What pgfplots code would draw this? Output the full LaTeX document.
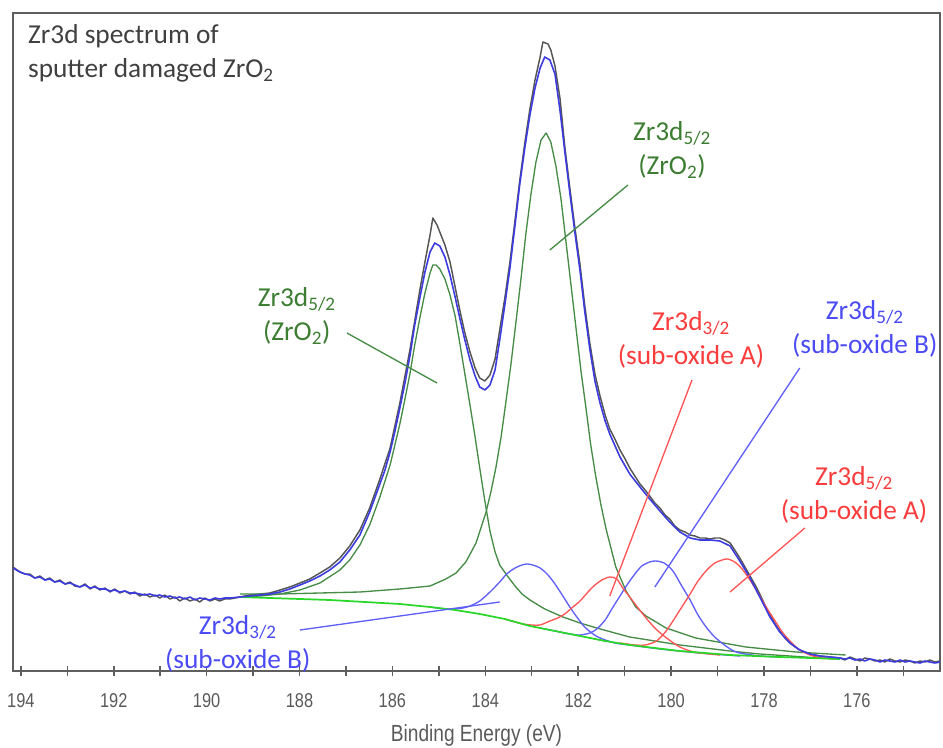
\documentclass[border=0pt]{standalone}
\usepackage{fontspec}
\usepackage{graphicx}
\usepackage{pgfplots}
\usepackage{pgfplotstable}
\pgfplotsset{compat=1.18}
\setmainfont{Carlito}
\newfontfamily\arialfont{Liberation Sans}

\definecolor{rawgray}{RGB}{85,85,85}
\definecolor{fitblue}{RGB}{60,60,225}
\definecolor{compblue}{RGB}{95,95,250}
\definecolor{zrgreen}{RGB}{70,140,70}
\definecolor{bggreen}{RGB}{40,215,40}
\definecolor{compred}{RGB}{255,85,85}
\definecolor{lblgreen}{RGB}{60,125,50}
\definecolor{lblred}{RGB}{250,60,60}
\definecolor{lblblue}{RGB}{75,75,245}
\definecolor{txtgray}{RGB}{64,64,64}
\definecolor{axgray}{RGB}{95,95,95}
\definecolor{ticktext}{RGB}{90,90,90}

\newcommand{\tk}[1]{\scalebox{0.82}[1]{#1}}
\newcommand{\lblfont}{\fontsize{20.5}{25.5}\selectfont}

% measured spectrum (binding energy in eV, intensity in arbitrary units)
\pgfplotstableread{
E h
194.17 104
194.02 99
193.91 97
193.81 97
193.70 93
193.59 95
193.48 91
193.38 93
193.27 89
193.16 91
193.05 87
192.94 89
192.84 85
192.73 84
192.62 87
192.51 82
192.41 85
192.30 81
192.19 83
192.08 79
191.98 82
191.87 78
191.76 80
191.65 77
191.55 79
191.44 75
191.33 77
191.22 74
191.11 76
191.01 73
190.90 76
190.79 72
190.68 74
190.58 70
190.47 73
190.36 70
190.25 72
190.15 69
190.04 73
189.93 70
189.82 72
189.72 70
189.61 72
189.50 72
189.39 73
189.28 74
189.07 76
188.85 77
188.64 78
188.42 81
188.21 84
187.99 88
187.78 92
187.56 98
187.35 104
187.13 113
186.92 125
186.70 141
186.49 163
186.27 192
186.05 223
185.84 268
185.62 322
185.41 381
185.30 409
185.19 436
185.13 453
185.04 446
184.98 439
184.87 426
184.76 409
184.65 384
184.55 361
184.44 338
184.33 319
184.22 303
184.12 293
184.01 290
183.90 296
183.79 312
183.69 341
183.58 373
183.47 409
183.36 451
183.26 490
183.15 528
183.04 562
182.93 591
182.82 614
182.76 629
182.65 627
182.59 621
182.50 605
182.39 572
182.29 525
182.18 483
182.07 443
181.96 406
181.86 366
181.75 328
181.64 297
181.53 275
181.42 256
181.32 242
181.21 232
181.10 221
180.99 212
180.89 203
180.78 195
180.67 187
180.56 181
180.46 175
180.35 168
180.24 163
180.13 156
180.03 152
179.92 145
179.81 141
179.70 139
179.59 136
179.49 135
179.38 133
179.27 133
179.16 132
179.06 133
178.95 133
178.84 131
178.73 128
178.63 121
178.52 113
178.41 104
178.30 95
178.19 86
178.09 77
177.98 66
177.87 56
177.76 47
177.66 40
177.55 33
177.44 28
177.33 24
177.23 21
177.01 17
176.80 15
176.58 14
176.36 13
176.26 11
176.15 14
176.04 12
175.93 10
175.83 13
175.72 12
175.61 10
175.50 11
175.40 9
175.29 12
175.18 10
175.07 9
174.96 11
174.86 10
174.75 8
174.64 10
174.53 9
174.43 11
174.32 9
174.21 10
}\rawdata

% fitted envelope
\pgfplotstableread{
E h
194.17 103
194.02 99
193.91 97
193.81 96
193.70 93
193.59 94
193.48 91
193.38 92
193.27 89
193.16 90
193.05 87
192.94 88
192.84 86
192.73 84
192.62 86
192.51 83
192.41 84
192.30 82
192.19 82
192.08 80
191.98 81
191.87 79
191.76 80
191.65 78
191.55 78
191.44 77
191.33 76
191.22 77
191.11 75
191.01 76
190.90 74
190.79 75
190.68 73
190.58 74
190.47 72
190.36 74
190.25 71
190.15 73
190.04 72
189.93 71
189.82 73
189.72 72
189.61 73
189.50 73
189.28 74
189.07 75
188.85 76
188.64 77
188.42 79
188.21 82
187.99 86
187.78 90
187.56 95
187.35 101
187.13 109
186.92 121
186.70 136
186.49 159
186.27 187
186.16 201
186.05 219
185.95 239
185.84 263
185.73 288
185.62 316
185.52 346
185.41 373
185.30 399
185.19 419
185.09 428
184.98 425
184.87 414
184.76 396
184.65 374
184.55 353
184.44 331
184.33 311
184.22 295
184.12 284
184.01 281
183.90 286
183.79 301
183.69 331
183.58 366
183.47 403
183.36 446
183.26 486
183.15 523
183.04 556
182.93 583
182.82 603
182.72 614
182.61 611
182.50 597
182.39 560
182.29 520
182.18 478
182.07 438
181.96 400
181.86 360
181.75 322
181.64 290
181.53 268
181.42 250
181.32 237
181.10 214
180.89 197
180.67 184
180.46 172
180.24 160
180.03 149
179.81 139
179.59 133
179.38 131
179.16 131
178.95 130
178.73 125
178.52 110
178.30 93
178.09 74
177.87 54
177.66 39
177.44 28
177.23 21
177.01 17
176.80 15
176.58 14
176.36 13
176.26 12
176.15 13
176.04 11
175.93 12
175.83 10
175.72 12
175.61 11
175.50 9
175.40 11
175.29 10
175.18 9
175.07 11
174.96 9
174.86 10
174.75 9
174.64 8
174.53 10
174.43 9
174.32 8
174.21 9
}\envelope

% Shirley background
\pgfplotstableread{
E h
189.28 74
188.64 73
187.99 72
187.35 71
186.59 69
185.84 67
185.19 64
184.65 61
184.12 57
183.58 52
183.04 45
182.50 40
181.96 35
181.42 30
180.89 26
180.35 23
179.81 20
179.27 18
178.73 16
178.19 15
177.66 14
177.01 13
176.36 12
}\shirley

% ZrO2 3d5/2 component
\pgfplotstableread{
E h
189.28 77
188.42 77
187.56 78
186.70 79
185.84 82
185.19 85
184.85 92
184.63 98
184.42 109
184.20 128
183.99 158
183.88 179
183.77 204
183.66 234
183.56 268
183.45 306
183.34 349
183.23 393
183.13 436
183.02 476
182.91 509
182.80 531
182.69 538
182.59 529
182.48 505
182.37 472
182.27 432
182.16 388
182.05 344
181.94 300
181.83 262
181.73 226
181.62 194
181.51 166
181.40 142
181.19 104
180.97 80
180.76 64
180.54 55
180.11 43
179.47 33
178.39 24
177.31 19
176.24 16
}\zrofive

% ZrO2 3d3/2 component
\pgfplotstableread{
E h
189.28 74
188.85 75
188.42 77
187.99 81
187.56 88
187.13 101
186.92 111
186.70 126
186.49 146
186.27 174
186.05 206
185.84 247
185.73 272
185.62 298
185.52 326
185.41 353
185.30 378
185.19 398
185.13 406
185.06 406
184.98 402
184.87 392
184.76 376
184.65 355
184.55 328
184.44 297
184.33 266
184.22 234
184.12 203
184.01 170
183.90 140
183.79 119
183.69 106
183.54 96
183.36 85
183.21 77
183.04 71
182.72 62
182.33 54
181.96 48
181.60 43
181.21 38
180.89 34
180.35 30
179.81 26
179.27 23
178.73 20
178.09 17
177.44 15
176.80 13
176.36 12
}\zrothree

% sub-oxide B 3d3/2
\pgfplotstableread{
E h
185.19 64
184.87 62
184.65 62
184.48 63
184.33 65
184.12 70
183.90 79
183.69 89
183.54 97
183.36 103
183.21 106
183.10 107
182.98 106
182.82 103
182.65 96
182.50 87
182.33 75
182.18 64
182.03 54
181.86 44
181.68 37
181.53 33
181.21 28
180.89 26
180.24 22
179.38 18
178.52 15
}\subBthree

% sub-oxide B 3d5/2
\pgfplotstableread{
E h
182.82 43
182.50 40
182.18 37
181.96 36
181.75 38
181.60 42
181.42 51
181.25 64
181.10 75
180.95 86
180.78 97
180.63 105
180.46 109
180.33 110
180.15 108
179.96 100
179.77 85
179.59 71
179.42 56
179.23 43
179.06 34
178.88 27
178.69 21
178.52 18
178.09 15
177.66 14
}\subBfive

% sub-oxide A 3d3/2
\pgfplotstableread{
E h
183.58 52
183.36 49
183.19 47
183.00 46
182.82 46
182.61 50
182.44 53
182.29 57
182.14 63
181.96 70
181.79 79
181.64 86
181.49 91
181.32 94
181.17 92
181.04 83
180.89 74
180.71 63
180.52 52
180.35 43
180.18 36
179.98 29
179.81 24
179.59 20
179.38 18
178.95 16
}\subAthree

% sub-oxide A 3d5/2
\pgfplotstableread{
E h
181.10 28
180.78 26
180.56 26
180.35 29
180.24 33
180.09 41
179.96 50
179.81 61
179.59 77
179.42 90
179.23 101
179.06 108
178.90 111
178.78 112
178.63 109
178.47 102
178.30 91
178.13 78
177.94 63
177.76 50
177.59 38
177.40 28
177.23 21
177.01 16
176.75 13
176.47 12
}\subAfive

\begin{document}
\begin{tikzpicture}
\useasboundingbox (0,0) rectangle (707.25pt,560.25pt);
\begin{axis}[
  at={(9.75pt,57pt)}, anchor=south west,
  width=695.25pt, height=493.5pt, scale only axis,
  xmin=174.21, xmax=194.17, ymin=0, ymax=658,
  x dir=reverse,
  axis line style={axgray, line width=1.1pt},
  ytick=\empty,
  xtick={175,...,194},
  xticklabels={,\tk{176},,\tk{178},,\tk{180},,\tk{182},,\tk{184},,\tk{186},,\tk{188},,\tk{190},,\tk{192},,\tk{194}},
  xtick pos=bottom,
  tick align=center,
  major tick length=8pt,
  tick style={axgray, line width=1.1pt},
  xticklabel style={font=\arialfont\fontsize{15}{15}\selectfont, text=ticktext, anchor=center, yshift=-18.5pt},
  xlabel={\tk{Binding Energy (eV)}},
  xlabel style={font=\arialfont\fontsize{17.5}{17.5}\selectfont, text=ticktext, at={(axis description cs:0.5,0)}, anchor=center, yshift=-48pt},
  every axis plot/.append style={no markers, line join=round},
]
\addplot[rawgray, line width=1.1pt] table[x=E, y=h] {\rawdata};
\addplot[zrgreen, line width=1pt] table[x=E, y=h] {\zrofive};
\addplot[zrgreen, line width=1pt] table[x=E, y=h] {\zrothree};
\addplot[compblue, line width=1pt, smooth] table[x=E, y=h] {\subBthree};
\addplot[compblue, line width=1pt, smooth] table[x=E, y=h] {\subBfive};
\addplot[compred, line width=1pt, smooth] table[x=E, y=h] {\subAthree};
\addplot[compred, line width=1pt, smooth] table[x=E, y=h] {\subAfive};
\addplot[bggreen, line width=1.3pt] table[x=E, y=h] {\shirley};
\addplot[fitblue, line width=1.2pt] table[x=E, y=h] {\envelope};

% leader lines
\draw[zrgreen, line width=1pt] (axis cs:186.98,338) -- (axis cs:185.04,288);
\draw[zrgreen, line width=1pt] (axis cs:180.93,486) -- (axis cs:182.61,421);
\draw[compred, line width=1pt] (axis cs:179.55,291) -- (axis cs:181.32,75);
\draw[compblue, line width=1pt] (axis cs:177.23,303) -- (axis cs:180.35,84);
\draw[compred, line width=1pt] (axis cs:177.12,143) -- (axis cs:178.73,79);
\draw[compblue, line width=1pt] (axis cs:187.99,41) -- (axis cs:183.69,69);

% labels
\node[font=\lblfont, text=txtgray, align=left, anchor=north west, inner sep=0pt]
  at (rel axis cs:0.016,0.983) {Zr3d spectrum of\\sputter damaged ZrO\textsubscript{2}};
\node[font=\lblfont, text=lblgreen, align=center, inner sep=0pt]
  at (axis cs:188.06,355) {Zr3d\textsubscript{5/2}\\(ZrO\textsubscript{2})};
\node[font=\lblfont, text=lblgreen, align=center, inner sep=0pt]
  at (axis cs:179.98,521) {Zr3d\textsubscript{5/2}\\(ZrO\textsubscript{2})};
\node[font=\lblfont, text=lblred, align=center, inner sep=0pt]
  at (axis cs:179.57,331) {Zr3d\textsubscript{3/2}\\(sub-oxide A)};
\node[font=\lblfont, text=lblblue, align=center, inner sep=0pt]
  at (axis cs:175.83,342) {Zr3d\textsubscript{5/2}\\(sub-oxide B)};
\node[font=\lblfont, text=lblred, align=center, inner sep=0pt]
  at (axis cs:176.06,176) {Zr3d\textsubscript{5/2}\\(sub-oxide A)};
\node[font=\lblfont, text=lblblue, align=center, inner sep=0pt]
  at (axis cs:189.33,27) {Zr3d\textsubscript{3/2}\\(sub-oxide B)};
\end{axis}
\end{tikzpicture}
\end{document}
